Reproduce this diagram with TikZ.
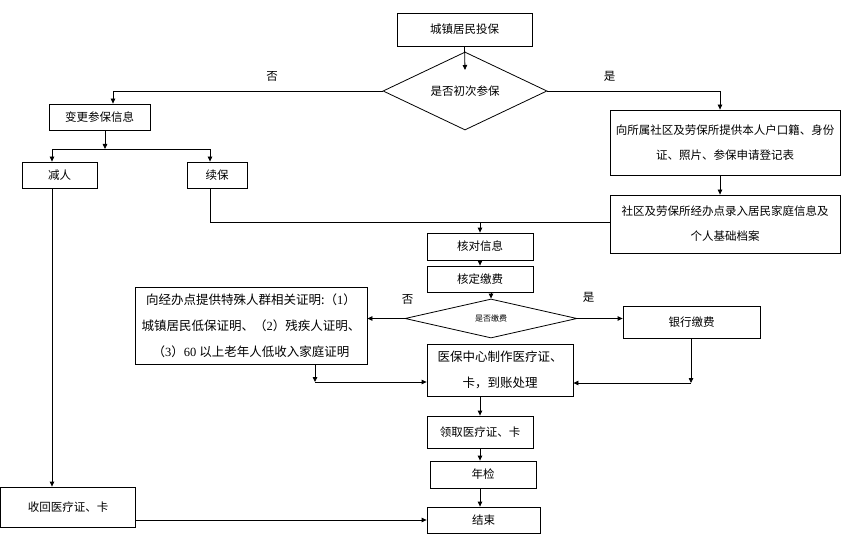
\documentclass[tikz,border=0pt]{standalone}
\usepackage{fontspec}
\setmainfont{Noto Sans CJK SC}
\newfontfamily\latinnum{Liberation Serif}
\usetikzlibrary{arrows.meta, calc, shapes.geometric}
\tikzset{
  box/.style      = {draw, line width=0.8pt, inner sep=0pt, align=center,
                     font=\fontsize{11.5}{25}\selectfont},
  bigbox/.style   = {box, font=\fontsize{12.5}{26}\selectfont},
  decision/.style = {draw, diamond, line width=0.8pt, inner sep=0pt, aspect=2},
  link/.style     = {line width=0.8pt},
  arr/.style      = {link, -{Triangle[length=5pt, width=4.5pt]}},
  yesno/.style    = {font=\fontsize{11.5}{14}\selectfont},
}

\begin{document}
\begin{tikzpicture}[x=1pt, y=-1pt]

  \useasboundingbox (0,0) rectangle (859,540);

  % ── main column ─────────────────────────────────────────────────────────
  \node[box, minimum width=135pt, minimum height=33pt] (start) at (464.5,29.5) {城镇居民投保};
  \node[decision, minimum width=164pt, minimum height=78pt] (q1) at (465,91)
    {\fontsize{11.5}{14}\selectfont 是否初次参保};

  % ── "no" branch: change of data ────────────────────────────────────────
  \node[box, minimum width=101pt, minimum height=26pt] (chg)  at (99.5,117) {变更参保信息};
  \node[box, minimum width=75pt,  minimum height=26pt] (dec)  at (59.5,175) {减人};
  \node[box, minimum width=60pt,  minimum height=26pt] (ren)  at (217,175)  {续保};
  \node[box, minimum width=135pt, minimum height=40pt] (back) at (68,507)   {收回医疗证、卡};

  % ── "yes" branch: registration ─────────────────────────────────────────
  \node[box, minimum width=230pt, minimum height=65pt] (reg) at (725,142.5)
    {向所属社区及劳保所提供本人户口籍、身份\\证、照片、参保申请登记表};
  \node[box, minimum width=230pt, minimum height=58pt] (rec) at (725,224)
    {社区及劳保所经办点录入居民家庭信息及\\个人基础档案};

  % ── checking and payment ───────────────────────────────────────────────
  \node[box, minimum width=106pt, minimum height=27pt] (chk)  at (480,246.5) {核对信息};
  \node[box, minimum width=106pt, minimum height=26pt] (fee)  at (480,279)   {核定缴费};
  \node[decision, minimum width=172pt, minimum height=39pt] (q2) at (491,318.5)
    {\fontsize{8}{8}\selectfont 是否缴费};
  \node[bigbox, minimum width=232pt, minimum height=77pt] (spec) at (251,325.5)
    {向经办点提供特殊人群相关证明:（{\latinnum 1}）\\
     城镇居民低保证明、（{\latinnum 2}）残疾人证明、\\
     （{\latinnum 3}）{\latinnum 60} 以上老年人低收入家庭证明};
  \node[box, minimum width=137pt, minimum height=32pt] (bank) at (691.5,322) {银行缴费};
  \node[bigbox, minimum width=146pt, minimum height=52pt] (make) at (500,370)
    {医保中心制作医疗证、\\卡，到账处理};
  \node[box, minimum width=106pt, minimum height=32pt] (get)  at (480,432)   {领取医疗证、卡};
  \node[box, minimum width=106pt, minimum height=27pt] (yr)   at (483,474.5) {年检};
  \node[box, minimum width=113pt, minimum height=26pt] (end)  at (483.5,520) {结束};

  % helper points
  \coordinate (q1in)   at (465,70);
  \coordinate (split)  at (105,149);
  \coordinate (specdn) at (315,382);
  \coordinate (bankdn) at (691,383);

  % ── connectors ─────────────────────────────────────────────────────────
  \draw[arr] (start.south) -- (q1in);
  \draw[arr] (q1.west) -| ([xshift=13.5pt]chg.north)
    node[yesno, pos=0.205, above=6pt] {否};
  \draw[arr] (q1.east) -| ([xshift=-5pt]reg.north)
    node[yesno, pos=0.18, above=6pt] {是};

  \draw[arr] (chg.south -| split) -- (split);
  \draw[arr] (split) -| ([xshift=-7.5pt]dec.north);
  \draw[arr] (split) -| ([xshift=-7pt]ren.north);

  \draw[arr] ([xshift=-5pt]reg.south) -- ([xshift=-5pt]rec.north);
  \draw[link] ([xshift=-7pt]ren.south) |- ([yshift=2pt]rec.west);
  \draw[arr] (chk.north |- 0,222) -- (chk.north);

  \draw[arr] (chk.south) -- (fee.north);
  \draw[arr] (q2.north |- fee.south) -- (q2.north);

  \draw[arr] (q2.west) -- (q2.west -| spec.east)
    node[yesno, at start, above=10pt, xshift=3pt] {否};
  \draw[arr] (q2.east) -- (q2.east -| bank.west)
    node[yesno, pos=0.25, above=12pt] {是};

  \draw[arr] (spec.south -| specdn) -- (specdn);
  \draw[arr] (specdn) -- (specdn -| make.west);
  \draw[arr] (bank.south -| bankdn) -- (bankdn);
  \draw[arr] (bankdn) -- (bankdn -| make.east);

  \draw[arr] (get.north |- make.south) -- (get.north);
  \draw[arr] (get.south) -- (get.south |- yr.north);
  \draw[arr] (get.south |- yr.south) -- (get.south |- end.north);

  \draw[arr] ([xshift=-7.5pt]dec.south) -- ([xshift=-16pt]back.north);
  \draw[arr] (back.east |- end.west) -- (end.west);

\end{tikzpicture}
\end{document}
